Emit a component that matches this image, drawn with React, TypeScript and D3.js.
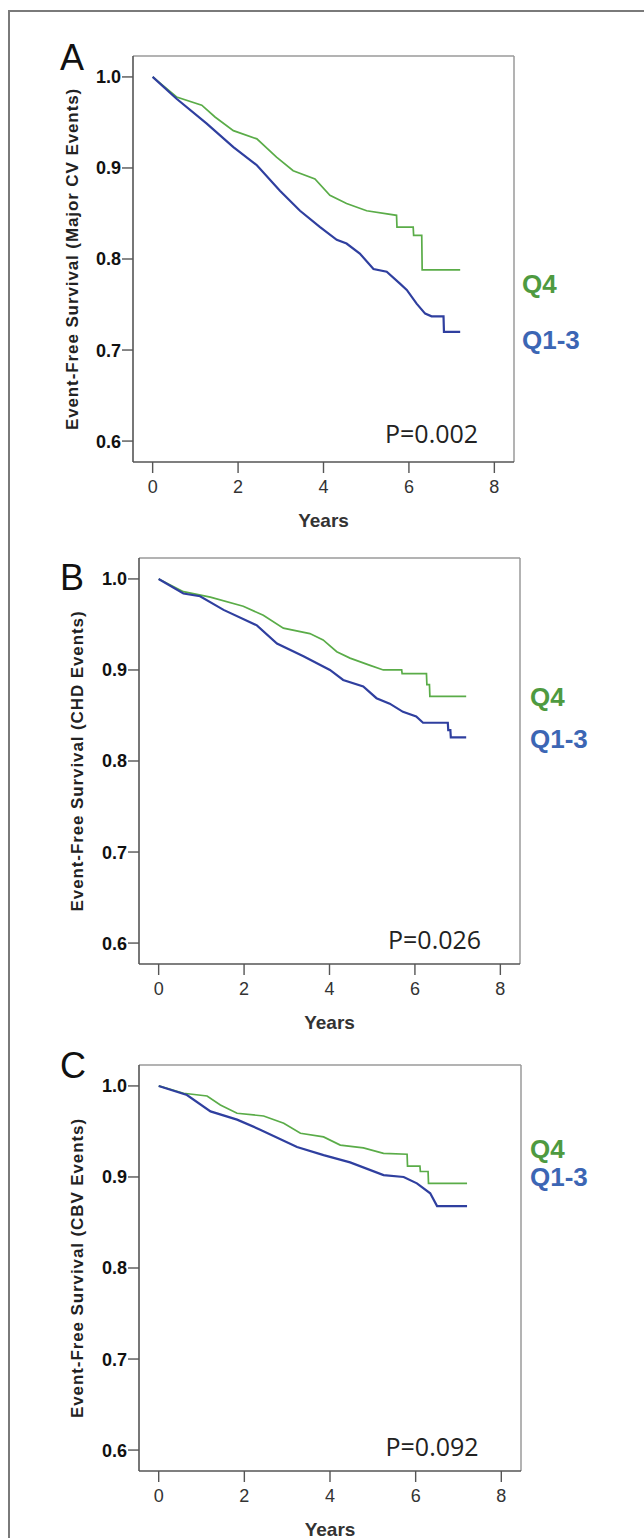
import React from 'react';
import * as d3 from 'd3';

// ---------- data ----------
const panelLetters = ['A', 'B', 'C'];
const yTitles = [
  'Event-Free Survival (Major CV Events)',
  'Event-Free Survival (CHD Events)',
  'Event-Free Survival (CBV Events)',
];
const pValues = ['P=0.002', 'P=0.026', 'P=0.092'];
const xTicks = [0, 2, 4, 6, 8];
const yTicks = [0.6, 0.7, 0.8, 0.9, 1.0];
const seriesNames = ['Q4', 'Q1-3'];

// Panel A (Major CV events)
const q4A: [number, number][] = [
  [0, 1.0], [0.56, 0.978], [1.15, 0.969], [1.46, 0.956], [1.89, 0.941], [2.44, 0.932],
  [2.9, 0.912], [3.29, 0.897], [3.8, 0.888], [4.15, 0.87], [4.54, 0.861], [5.01, 0.853],
  [5.71, 0.848], [5.72, 0.835], [6.1, 0.835], [6.11, 0.826], [6.3, 0.826], [6.31, 0.788],
  [7.2, 0.788],
];
const q13A: [number, number][] = [
  [0, 1.0], [0.56, 0.976], [1.26, 0.949], [1.89, 0.923], [2.44, 0.903], [2.98, 0.875],
  [3.45, 0.853], [3.92, 0.835], [4.31, 0.821], [4.54, 0.817], [4.85, 0.806], [5.17, 0.789],
  [5.48, 0.786], [5.79, 0.773], [5.95, 0.766], [6.18, 0.751], [6.38, 0.74], [6.53, 0.737],
  [6.81, 0.737], [6.82, 0.72], [7.2, 0.72],
];
// Panel B (CHD events)
const q4B: [number, number][] = [
  [0, 1.0], [0.58, 0.986], [1.21, 0.98], [1.98, 0.97], [2.45, 0.96], [2.92, 0.946],
  [3.54, 0.94], [3.85, 0.933], [4.17, 0.92], [4.48, 0.913], [4.95, 0.905], [5.26, 0.9],
  [5.69, 0.9], [5.7, 0.896], [6.27, 0.896], [6.28, 0.884], [6.34, 0.884], [6.35, 0.871],
  [7.2, 0.871],
];
const q13B: [number, number][] = [
  [0, 1.0], [0.58, 0.984], [0.97, 0.981], [1.52, 0.966], [2.3, 0.949], [2.77, 0.929],
  [3.39, 0.915], [4.01, 0.9], [4.32, 0.889], [4.79, 0.882], [5.1, 0.869], [5.41, 0.863],
  [5.72, 0.854], [6.03, 0.849], [6.19, 0.842], [6.77, 0.842], [6.78, 0.834], [6.83, 0.834],
  [6.84, 0.826], [7.2, 0.826],
];
// Panel C (CBV events)
const q4C: [number, number][] = [
  [0, 1.0], [0.58, 0.992], [1.13, 0.989], [1.44, 0.979], [1.83, 0.97], [2.45, 0.967],
  [2.92, 0.959], [3.31, 0.948], [3.85, 0.944], [4.24, 0.935], [4.78, 0.932], [5.25, 0.926],
  [5.8, 0.925], [5.81, 0.912], [6.1, 0.912], [6.11, 0.906], [6.29, 0.906], [6.3, 0.893],
  [7.2, 0.893],
];
const q13C: [number, number][] = [
  [0, 1.0], [0.66, 0.99], [1.21, 0.972], [1.83, 0.963], [2.37, 0.952], [3.23, 0.933],
  [3.85, 0.924], [4.47, 0.916], [5.25, 0.902], [5.72, 0.9], [6.03, 0.893], [6.34, 0.882],
  [6.5, 0.868], [7.2, 0.868],
];

const q4Series = [q4A, q4B, q4C];
const q13Series = [q13A, q13B, q13C];

// ---------- layout ----------
const W = 644;
const H = 1538;
const panels = [
  { left: 133, top: 56, right: 514, bottom: 462, letterY: 70, pX: 7.62, pY: 0.598, q4Y: 293, q13Y: 349, qX: 522, titleX: 72 },
  { left: 139, top: 558, right: 520, bottom: 964, letterY: 590, pX: 7.55, pY: 0.594, q4Y: 706, q13Y: 748, qX: 530, titleX: 77 },
  { left: 139, top: 1065, right: 521, bottom: 1471, letterY: 1078, pX: 7.47, pY: 0.594, q4Y: 1158, q13Y: 1186, qX: 530, titleX: 77 },
];

const GREEN_LINE = '#5aac48';
const BLUE_LINE = '#2f3f9f';
const GREEN_TEXT = '#4e9a40';
const BLUE_TEXT = '#3c66b4';
const FONT = "'Liberation Sans', Arial, sans-serif";

function Panel({ i }: { i: number }) {
  const p = panels[i];
  const x = d3.scaleLinear().domain([-0.46, 8.46]).range([p.left, p.right]);
  const y = d3.scaleLinear().domain([0.577, 1.023]).range([p.bottom, p.top]);
  const line = d3
    .line<[number, number]>()
    .x((d) => x(d[0]))
    .y((d) => y(d[1]))
    .curve(d3.curveLinear);
  const midY = (p.top + p.bottom) / 2;
  return (
    <g>
      <text x={60} y={p.letterY} fontFamily={FONT} fontSize={36} fill="#111">
        {panelLetters[i]}
      </text>
      {/* frame */}
      <line x1={p.left} y1={p.top} x2={p.right} y2={p.top} stroke="#9a9a9a" strokeWidth={1.5} />
      <line x1={p.right} y1={p.top} x2={p.right} y2={p.bottom} stroke="#9a9a9a" strokeWidth={1.5} />
      <line x1={p.left} y1={p.top} x2={p.left} y2={p.bottom} stroke="#555" strokeWidth={1.6} />
      <line x1={p.left} y1={p.bottom} x2={p.right} y2={p.bottom} stroke="#555" strokeWidth={1.6} />
      {/* y ticks */}
      {yTicks.map((t) => (
        <g key={'y' + t}>
          <line x1={p.left - 11} x2={p.left} y1={y(t)} y2={y(t)} stroke="#555" strokeWidth={1.4} />
          <text
            x={p.left - 12}
            y={y(t)}
            dy="0.36em"
            textAnchor="end"
            fontFamily={FONT}
            fontWeight="bold"
            fontSize={18}
            fill="#111"
          >
            {t.toFixed(1)}
          </text>
        </g>
      ))}
      {/* x ticks */}
      {xTicks.map((t) => (
        <g key={'x' + t}>
          <line x1={x(t)} x2={x(t)} y1={p.bottom} y2={p.bottom + 11} stroke="#555" strokeWidth={1.4} />
          <text
            x={x(t)}
            y={p.bottom + 31}
            textAnchor="middle"
            fontFamily={FONT}
            fontSize={18}
            fill="#333"
          >
            {t}
          </text>
        </g>
      ))}
      <text
        x={x(4)}
        y={p.bottom + 65}
        textAnchor="middle"
        fontFamily={FONT}
        fontWeight="bold"
        fontSize={19}
        fill="#333"
      >
        Years
      </text>
      <text
        transform={`translate(${p.titleX},${midY}) rotate(-90)`}
        textAnchor="middle"
        dy="0.35em"
        fontFamily={FONT}
        fontWeight="bold"
        fontSize={17}
        letterSpacing={0.9}
        fill="#222"
      >
        {yTitles[i]}
      </text>
      {/* curves */}
      <path d={line(q4Series[i]) || ''} fill="none" stroke={GREEN_LINE} strokeWidth={1.7} />
      <path d={line(q13Series[i]) || ''} fill="none" stroke={BLUE_LINE} strokeWidth={2.2} />
      {/* p value */}
      <text
        x={x(p.pX)}
        y={y(p.pY)}
        textAnchor="end"
        fontFamily="'Open Sans', sans-serif"
        fontSize={25}
        fill="#222"
      >
        {pValues[i]}
      </text>
      {/* legend labels */}
      <text x={p.qX} y={p.q4Y} fontFamily={FONT} fontWeight="bold" fontSize={26} fill={GREEN_TEXT}>
        {seriesNames[0]}
      </text>
      <text x={p.qX} y={p.q13Y} fontFamily={FONT} fontWeight="bold" fontSize={26} fill={BLUE_TEXT}>
        {seriesNames[1]}
      </text>
    </g>
  );
}

export default function App() {
  return (
    <svg
      width={W}
      height={H}
      viewBox={`0 0 ${W} ${H}`}
      style={{ position: 'absolute', left: 0, top: 0, background: '#fff' }}
    >
      <rect x={0} y={0} width={W} height={H} fill="#fff" />
      <rect x={9} y={11} width={W + 20} height={H + 20} fill="none" stroke="#7a7a7a" strokeWidth={2} />
      {panels.map((_, i) => (
        <Panel key={i} i={i} />
      ))}
    </svg>
  );
}
